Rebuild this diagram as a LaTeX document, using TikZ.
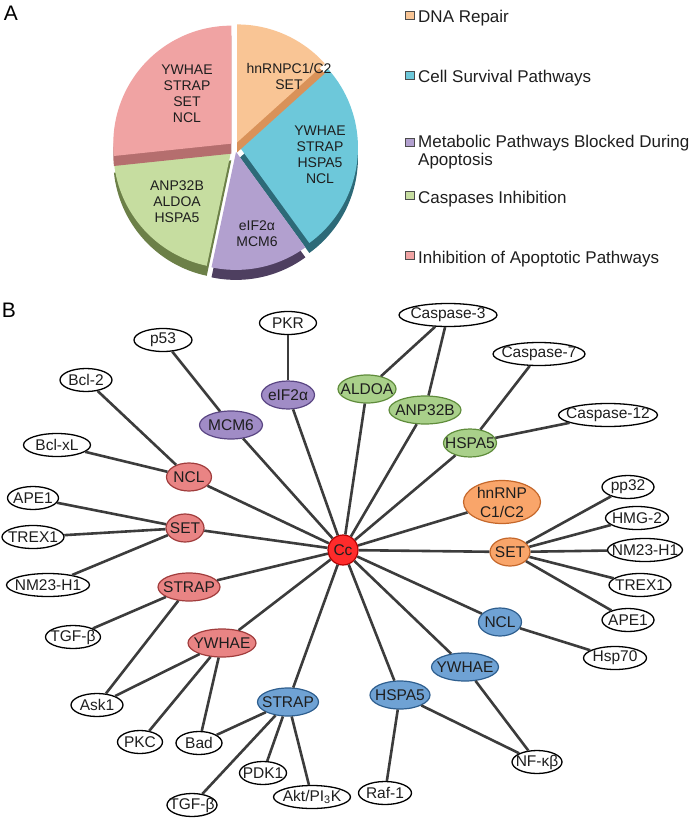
\documentclass[tikz,border=0pt]{standalone}
\usepackage{fontspec}
\setmainfont{Liberation Sans}
\usetikzlibrary{calc,shapes.geometric}

% pie colours
\definecolor{piedna}{HTML}{F9C595}
\definecolor{darkdna}{HTML}{D99259}
\definecolor{piesurv}{HTML}{6DC8DA}
\definecolor{darksurv}{HTML}{2D6A78}
\definecolor{piemeta}{HTML}{B2A0CF}
\definecolor{darkmeta}{HTML}{4E3F60}
\definecolor{piecasp}{HTML}{C6DDA0}
\definecolor{darkcasp}{HTML}{6C8048}
\definecolor{pieapop}{HTML}{F0A3A3}
\definecolor{darkapop}{HTML}{B56E6E}

% network colours
\definecolor{linkgray}{HTML}{3C3C3C}
\definecolor{textgray}{HTML}{1E1E1E}
\definecolor{fillapop}{HTML}{E98484}
\definecolor{lineapop}{HTML}{A03C3C}
\definecolor{fillmeta}{HTML}{A08CC6}
\definecolor{linemeta}{HTML}{5A4683}
\definecolor{fillcasp}{HTML}{A9D08A}
\definecolor{linecasp}{HTML}{5F8C3B}
\definecolor{filldna}{HTML}{F9A56A}
\definecolor{linedna}{HTML}{C5672A}
\definecolor{fillsurv}{HTML}{6FA2D4}
\definecolor{linesurv}{HTML}{2E5E8E}
\definecolor{fillcc}{HTML}{FF2B2B}
\definecolor{linecc}{HTML}{B30000}

\begin{document}
\begin{tikzpicture}[x=1pt,y=1pt,
	link/.style={line width=2.6pt, draw=linkgray},
	gene/.style={ellipse, draw, line width=1.2pt, inner xsep=-50pt, inner ysep=0pt,
		minimum height=23pt, text=textgray, font=\fontsize{15.5}{17}\selectfont},
	partner/.style={gene, fill=white, draw=black, line width=1.3pt, minimum width=#1},
	hubnode/.style={gene, minimum height=28pt},
	apop/.style={hubnode, fill=fillapop, draw=lineapop, minimum width=#1},
	meta/.style={hubnode, fill=fillmeta, draw=linemeta, minimum width=#1},
	casp/.style={hubnode, fill=fillcasp, draw=linecasp, minimum width=#1},
	dna/.style={hubnode, fill=filldna, draw=linedna, minimum width=#1},
	surv/.style={hubnode, fill=fillsurv, draw=linesurv, minimum width=#1},
	pietext/.style={align=center, text=textgray, font=\fontsize{14}{16}\selectfont},
	swatch/.style={draw=black!70, line width=0.7pt, minimum width=9pt, minimum height=8pt, inner sep=0pt},
	legtext/.style={anchor=base west, inner sep=0pt, text=textgray, font=\fontsize{17}{18}\selectfont},
	panel/.style={text=black, font=\fontsize{21}{21}\selectfont}
]

% frame %{{{2

	\useasboundingbox (0,0) rectangle (700,-821);

% parameters %{{{2

	\def\pieR{118}
	\def\pieE{5}
	\def\pieT{10}

% pie chart %{{{2

	\coordinate (pc) at (235,-147);
	\foreach \a/\b/\col in {-54/42/surv,186/258/casp,258/306/meta,42/90/dna,90/186/apop} {
		\pgfmathsetmacro\m{(\a+\b)/2}
		\fill[dark\col] ($(pc)+(\m:\pieE)+(0,-\pieT)$) -- ++(\a:\pieR) arc (\a:\b:\pieR) -- cycle;
		\fill[pie\col] ($(pc)+(\m:\pieE)$) -- ++(\a:\pieR) arc (\a:\b:\pieR) -- cycle;
	}

	\node[pietext] (sdna) at (289,-76) {hnRNPC1/C2\\SET};
	\node[pietext] (sapop) at (187,-94) {YWHAE\\STRAP\\SET\\NCL};
	\node[pietext] (ssurv) at (320,-155) {YWHAE\\STRAP\\HSPA5\\NCL};
	\node[pietext] (scasp) at (177,-202) {ANP32B\\ALDOA\\HSPA5};
	\node[pietext] (smeta) at (257,-234) {eIF2α\\MCM6};

% legend %{{{2

	\node[swatch, fill=piedna] (k1) at (410,-15.5) {};
	\node[swatch, fill=piesurv] (k2) at (410,-75.5) {};
	\node[swatch, fill=piemeta] (k3) at (410,-142) {};
	\node[swatch, fill=piecasp] (k4) at (410,-195) {};
	\node[swatch, fill=pieapop] (k5) at (410,-255.5) {};

	\node[legtext] (t1) at (418,-23) {DNA Repair};
	\node[legtext] (t2) at (418,-83) {Cell Survival Pathways};
	\node[legtext] (t3) at (418,-148) {Metabolic Pathways Blocked During};
	\node[legtext] (t3b) at (418,-166) {Apoptosis};
	\node[legtext] (t4) at (418,-203.5) {Caspases Inhibition};
	\node[legtext] (t5) at (418,-263) {Inhibition of Apoptotic Pathways};

% panel labels %{{{2

	\node[panel] (labA) at (11,-13) {A};
	\node[panel] (labB) at (9,-310) {B};

% centre %{{{2

	\node[circle, draw=linecc, fill=fillcc, line width=1.2pt, minimum size=30pt, inner sep=0pt,
		text=textgray, font=\fontsize{15.5}{17}\selectfont] (cc) at (343,-550) {Cc};

% hub proteins %{{{2

	\node[meta=53pt] (eif2a) at (288,-395) {eIF2α};
	\node[meta=63pt] (mcm6) at (231,-425) {MCM6};

	\node[casp=58pt] (aldoa) at (367,-389) {ALDOA};
	\node[casp=72pt] (anp32b) at (425,-410) {ANP32B};
	\node[casp=53pt] (hspa5g) at (470,-443) {HSPA5};

	\node[dna=77pt, minimum height=43pt, align=center, font=\fontsize{15.5}{19}\selectfont] (hnrnp) at (502,-502) {hnRNP\\C1/C2};
	\node[dna=40pt] (seto) at (510,-552) {SET};

	\node[surv=43pt] (nclb) at (500,-622) {NCL};
	\node[surv=67pt] (ywhaeb) at (465,-667) {YWHAE};
	\node[surv=60pt] (hspa5b) at (400,-695) {HSPA5};
	\node[surv=61pt] (strapb) at (288,-702) {STRAP};

	\node[apop=45pt] (nclr) at (189,-477) {NCL};
	\node[apop=38pt] (setr) at (185,-528) {SET};
	\node[apop=62pt] (strapr) at (189,-587) {STRAP};
	\node[apop=68pt] (ywhaer) at (222,-643) {YWHAE};

% partners %{{{2

	\node[partner=57pt] (pkr) at (288,-323) {PKR};
	\node[partner=58pt] (p53) at (163,-340) {p53};
	\node[partner=52pt] (bcl2) at (86,-380) {Bcl-2};
	\node[partner=67pt] (bclxl) at (57,-445) {Bcl-xL};
	\node[partner=51pt] (ape1l) at (33,-498) {APE1};
	\node[partner=62pt] (trex1l) at (33,-537) {TREX1};
	\node[partner=83pt] (nm23l) at (48,-585) {NM23-H1};
	\node[partner=55pt] (tgfbl) at (73,-637) {TGF-β};
	\node[partner=52pt] (ask1) at (97,-705) {Ask1};
	\node[partner=45pt] (pkc) at (140,-742) {PKC};
	\node[partner=46pt] (bad) at (199,-743) {Bad};
	\node[partner=47pt] (pdk1) at (263,-773) {PDK1};
	\node[partner=77pt] (akt) at (312,-797) {Akt/PI\textsubscript{3}K};
	\node[partner=50pt] (tgfbb) at (192,-805) {TGF-β};
	\node[partner=53pt] (raf1) at (385,-793) {Raf-1};
	\node[partner=50pt] (nfkb) at (537,-762) {NF-κβ};
	\node[partner=63pt] (hsp70) at (615,-658) {Hsp70};
	\node[partner=52pt] (ape1r) at (628,-620) {APE1};
	\node[partner=62pt] (trex1r) at (640,-585) {TREX1};
	\node[partner=75pt] (nm23r) at (645,-550) {NM23-H1};
	\node[partner=63pt] (hmg2) at (637,-518) {HMG-2};
	\node[partner=52pt] (pp32) at (628,-487) {pp32};
	\node[partner=99pt] (casp12) at (608,-415) {Caspase-12};
	\node[partner=92pt] (casp7) at (539,-354) {Caspase-7};
	\node[partner=98pt] (casp3) at (448,-315) {Caspase-3};

% links from Cc %{{{2

	\foreach \n in {eif2a,mcm6,aldoa,anp32b,hspa5g,hnrnp,seto,nclb,ywhaeb,hspa5b,strapb,ywhaer,strapr,setr,nclr} {
		\draw[link] (cc) -- (\n);
	}

% other links %{{{2

	\draw[link] (eif2a) -- (pkr);
	\draw[link] (mcm6) -- (p53);
	\draw[link] (nclr) -- (bcl2);
	\draw[link] (nclr) -- (bclxl);
	\draw[link] (setr) -- (ape1l);
	\draw[link] (setr) -- (trex1l);
	\draw[link] (setr) -- (nm23l);
	\draw[link] (strapr) -- (tgfbl);
	\draw[link] (strapr) -- (ask1);
	\draw[link] (ywhaer) -- (ask1);
	\draw[link] (ywhaer) -- (pkc);
	\draw[link] (ywhaer) -- (bad);
	\draw[link] (strapb) -- (bad);
	\draw[link] (strapb) -- (tgfbb);
	\draw[link] (strapb) -- (pdk1);
	\draw[link] (strapb) -- (akt);
	\draw[link] (hspa5b) -- (raf1);
	\draw[link] (hspa5b) -- (nfkb);
	\draw[link] (ywhaeb) -- (nfkb);
	\draw[link] (nclb) -- (hsp70);
	\foreach \n in {pp32,hmg2,nm23r,trex1r,ape1r} { \draw[link] (seto) -- (\n); }
	\draw[link] (hspa5g) -- (casp7);
	\draw[link] (hspa5g) -- (casp12);
	\draw[link] (aldoa) -- (casp3);
	\draw[link] (anp32b) -- (casp3);

% closing %{{{2

\end{tikzpicture}
\end{document}
